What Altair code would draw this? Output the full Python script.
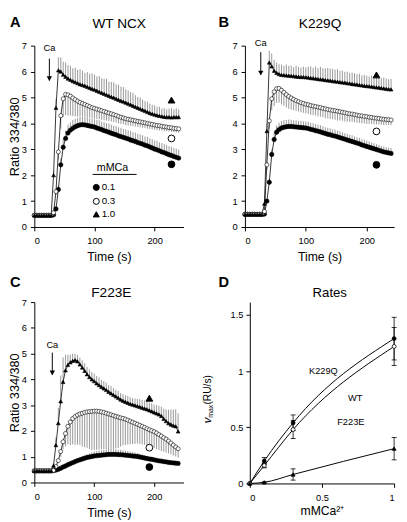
import altair as alt
import pandas as pd

FONT = "Liberation Sans"
GRAY = "#8c8c8c"

# ---------------- time grid (s) ----------------
T = [0, 4, 8, 12, 16, 20, 24, 28, 32, 36, 40, 44, 48, 52, 56, 60, 64, 68, 72, 76,
     80, 84, 88, 92, 96, 100, 104, 108, 112, 116, 120, 124, 128, 132, 136, 140, 144, 148, 152, 156,
     160, 164, 168, 172, 176, 180, 184, 188, 192, 196, 200, 204, 208, 212, 216, 220, 224, 228, 232, 236, 240]

SERIES = ["0.1", "0.3", "1.0"]

# ---------------- Panel A : WT NCX ----------------
A_10 = [0.45, 0.45, 0.45, 0.45, 0.45, 0.45, 0.45, 0.45,
        2.0, 4.6, 6.05, 6.0, 5.88, 5.8, 5.73,
        5.68, 5.63, 5.59, 5.55, 5.51, 5.48, 5.45, 5.41, 5.37, 5.33,
        5.30, 5.26, 5.22, 5.18, 5.14, 5.10, 5.06, 5.02, 4.99, 4.95,
        4.91, 4.87, 4.84, 4.80, 4.76, 4.72, 4.68, 4.64, 4.60, 4.56,
        4.52, 4.48, 4.44, 4.40, 4.37, 4.34, 4.31, 4.29, 4.27, 4.25,
        4.24, 4.24, 4.23, 4.24, 4.24, 4.24]
A_10_err = [0, 0, 0, 0, 0, 0, 0, 0,
            0.15, 0.35, 0.5, 0.55, 0.5, 0.55, 0.52,
            0.55, 0.5, 0.56, 0.52, 0.58, 0.55, 0.5, 0.57, 0.55, 0.6,
            0.58, 0.55, 0.6, 0.56, 0.58, 0.62, 0.55, 0.58, 0.6, 0.56,
            0.58, 0.55, 0.57, 0.52, 0.5, 0.48, 0.5, 0.45, 0.42, 0.44,
            0.4, 0.38, 0.4, 0.36, 0.35, 0.36, 0.33, 0.35, 0.3, 0.34,
            0.3, 0.33, 0.36, 0.3, 0.34, 0.3]
A_03 = [0.45, 0.45, 0.45, 0.45, 0.45, 0.45, 0.45, 0.45,
        0.55, 1.37, 2.9, 4.3, 4.95, 5.12, 5.1,
        5.05, 4.98, 4.92, 4.86, 4.81, 4.77, 4.73, 4.69, 4.65, 4.61,
        4.58, 4.55, 4.52, 4.49, 4.46, 4.43, 4.40, 4.37, 4.34, 4.31,
        4.27, 4.24, 4.21, 4.18, 4.16, 4.14, 4.12, 4.10, 4.08, 4.06,
        4.04, 4.02, 4.00, 3.98, 3.96, 3.94, 3.92, 3.91, 3.89, 3.87,
        3.86, 3.84, 3.83, 3.81, 3.80, 3.79]
A_03_err = [0, 0, 0, 0, 0, 0, 0, 0,
            0.05, 0.15, 0.3, 0.5, 0.7, 0.8, 0.8,
            0.75, 0.7, 0.65, 0.6, 0.55, 0.5, 0.48, 0.45, 0.42, 0.4,
            0.4, 0.38, 0.36, 0.35, 0.34, 0.32, 0.31, 0.3, 0.29, 0.28,
            0.27, 0.26, 0.25, 0.25, 0.24, 0.23, 0.23, 0.22, 0.22, 0.21,
            0.21, 0.2, 0.2, 0.2, 0.19, 0.19, 0.18, 0.18, 0.17, 0.17,
            0.16, 0.16, 0.16, 0.15, 0.15, 0.15]
A_01 = [0.45, 0.45, 0.45, 0.45, 0.45, 0.45, 0.45, 0.45,
        0.47, 0.7, 1.45, 2.4, 3.08, 3.42, 3.63,
        3.74, 3.81, 3.87, 3.91, 3.94, 3.95, 3.94, 3.92, 3.90, 3.88,
        3.86, 3.82, 3.79, 3.76, 3.72, 3.69, 3.66, 3.62, 3.59, 3.56,
        3.52, 3.49, 3.46, 3.43, 3.40, 3.36, 3.33, 3.30, 3.26, 3.23,
        3.20, 3.16, 3.13, 3.09, 3.05, 3.01, 2.98, 2.94, 2.90, 2.87,
        2.83, 2.79, 2.76, 2.72, 2.69, 2.66]
A_01_err = [0, 0, 0, 0, 0, 0, 0, 0,
            0.02, 0.05, 0.15, 0.25, 0.3, 0.3, 0.32,
            0.3, 0.32, 0.3, 0.3, 0.31, 0.3, 0.3, 0.32, 0.3, 0.31,
            0.3, 0.32, 0.33, 0.31, 0.33, 0.32, 0.34, 0.33, 0.32, 0.34,
            0.33, 0.34, 0.33, 0.34, 0.33, 0.35, 0.33, 0.34, 0.33, 0.35,
            0.34, 0.33, 0.35, 0.33, 0.34, 0.33, 0.35, 0.33, 0.34, 0.33,
            0.34, 0.33, 0.34, 0.33, 0.33, 0.33]

# ---------------- Panel B : K229Q ----------------
B_10 = [0.49, 0.49, 0.49, 0.49, 0.49, 0.49, 0.49, 0.49,
        0.9, 3.7, 6.35, 6.2, 6.03, 5.95, 5.9,
        5.87, 5.86, 5.85, 5.84, 5.83, 5.82, 5.81, 5.80, 5.79, 5.79,
        5.78, 5.77, 5.75, 5.74, 5.73, 5.71, 5.70, 5.69, 5.67, 5.66,
        5.65, 5.63, 5.62, 5.61, 5.59, 5.58, 5.57, 5.55, 5.54, 5.52,
        5.51, 5.50, 5.48, 5.47, 5.45, 5.44, 5.43, 5.42, 5.40, 5.39,
        5.38, 5.36, 5.35, 5.33, 5.32, 5.31]
B_10_err = [0, 0, 0, 0, 0, 0, 0, 0,
            0.1, 0.3, 0.45, 0.5, 0.42, 0.4, 0.38,
            0.4, 0.36, 0.42, 0.38, 0.4, 0.35, 0.42, 0.38, 0.36, 0.4,
            0.38, 0.42, 0.45, 0.4, 0.46, 0.42, 0.48, 0.44, 0.45, 0.48,
            0.46, 0.48, 0.45, 0.48, 0.44, 0.46, 0.42, 0.45, 0.4, 0.44,
            0.42, 0.4, 0.44, 0.38, 0.42, 0.4, 0.38, 0.42, 0.4, 0.38,
            0.4, 0.38, 0.42, 0.4, 0.38, 0.4]
B_03 = [0.49, 0.49, 0.49, 0.49, 0.49, 0.49, 0.49, 0.49,
        0.6, 2.4, 4.1, 4.95, 5.22, 5.34, 5.35,
        5.28, 5.20, 5.11, 5.04, 4.98, 4.93, 4.88, 4.84, 4.80, 4.77,
        4.74, 4.72, 4.69, 4.67, 4.65, 4.63, 4.61, 4.58, 4.56, 4.54,
        4.52, 4.50, 4.49, 4.47, 4.45, 4.43, 4.41, 4.39, 4.37, 4.36,
        4.34, 4.32, 4.30, 4.29, 4.27, 4.26, 4.24, 4.23, 4.21, 4.20,
        4.19, 4.17, 4.16, 4.15, 4.14, 4.13]
B_03_err = [0, 0, 0, 0, 0, 0, 0, 0,
            0.05, 0.2, 0.3, 0.45, 0.55, 0.55, 0.55,
            0.55, 0.52, 0.5, 0.48, 0.45, 0.42, 0.4, 0.38, 0.37, 0.36,
            0.35, 0.35, 0.36, 0.35, 0.34, 0.36, 0.35, 0.34, 0.36, 0.35,
            0.35, 0.34, 0.35, 0.36, 0.34, 0.33, 0.34, 0.32, 0.31, 0.3,
            0.3, 0.29, 0.28, 0.28, 0.27, 0.28, 0.26, 0.25, 0.25, 0.24,
            0.23, 0.22, 0.22, 0.21, 0.2, 0.2]
B_01 = [0.49, 0.49, 0.49, 0.49, 0.49, 0.49, 0.49, 0.49,
        0.5, 1.0, 1.73, 2.8, 3.38, 3.66, 3.76,
        3.82, 3.85, 3.87, 3.88, 3.88, 3.87, 3.86, 3.85, 3.84, 3.83,
        3.82, 3.80, 3.77, 3.75, 3.72, 3.70, 3.67, 3.64, 3.61, 3.58,
        3.56, 3.53, 3.51, 3.48, 3.45, 3.42, 3.39, 3.36, 3.33, 3.30,
        3.27, 3.24, 3.21, 3.17, 3.14, 3.11, 3.08, 3.05, 3.02, 2.99,
        2.96, 2.93, 2.90, 2.88, 2.86, 2.84]
B_01_err = [0, 0, 0, 0, 0, 0, 0, 0,
            0.02, 0.05, 0.12, 0.2, 0.25, 0.26, 0.27,
            0.27, 0.28, 0.26, 0.27, 0.26, 0.25, 0.26, 0.25, 0.26, 0.25,
            0.25, 0.26, 0.25, 0.26, 0.25, 0.25, 0.26, 0.25, 0.24, 0.25,
            0.25, 0.24, 0.25, 0.24, 0.25, 0.24, 0.23, 0.24, 0.23, 0.24,
            0.23, 0.22, 0.23, 0.22, 0.23, 0.22, 0.22, 0.21, 0.22, 0.21,
            0.21, 0.2, 0.21, 0.2, 0.2, 0.2]

# ---------------- Panel C : F223E ----------------
C_10 = [0.45, 0.45, 0.45, 0.45, 0.45, 0.45, 0.45, 0.45,
        0.65, 1.45, 2.3, 3.15, 3.9, 4.35, 4.56,
        4.66, 4.72, 4.75, 4.70, 4.58, 4.46, 4.33, 4.20, 4.09, 4.00,
        3.93, 3.85, 3.78, 3.71, 3.65, 3.59, 3.52, 3.46, 3.40, 3.34,
        3.28, 3.22, 3.17, 3.13, 3.09, 3.05, 3.02, 2.99, 2.96, 2.93,
        2.90, 2.87, 2.84, 2.80, 2.76, 2.72, 2.68, 2.64, 2.58, 2.47,
        2.38, 2.30, 2.25, 2.21, 2.18, 1.98]
C_10_err = [0, 0, 0, 0, 0, 0, 0, 0,
            0.1, 0.3, 0.6, 1.0, 0.95, 0.6, 0.4,
            0.3, 0.28, 0.25, 0.25, 0.27, 0.28, 0.3, 0.28, 0.3, 0.29,
            0.3, 0.28, 0.3, 0.27, 0.29, 0.28, 0.26, 0.28, 0.27, 0.26,
            0.27, 0.25, 0.26, 0.25, 0.27, 0.26, 0.25, 0.27, 0.28, 0.3,
            0.3, 0.31, 0.32, 0.3, 0.32, 0.3, 0.32, 0.34, 0.36, 0.4,
            0.45, 0.52, 0.58, 0.62, 0.66, 0.7]
C_03 = [0.45, 0.45, 0.45, 0.45, 0.45, 0.45, 0.45, 0.45,
        0.47, 0.62, 0.85, 1.2, 1.58, 1.9, 2.18,
        2.35, 2.48, 2.56, 2.62, 2.66, 2.69, 2.72, 2.74, 2.75, 2.76,
        2.77, 2.77, 2.76, 2.74, 2.72, 2.69, 2.66, 2.63, 2.60, 2.57,
        2.54, 2.51, 2.49, 2.46, 2.42, 2.38, 2.34, 2.30, 2.26, 2.22,
        2.18, 2.14, 2.09, 2.05, 2.01, 1.97, 1.92, 1.86, 1.80, 1.74,
        1.68, 1.61, 1.53, 1.45, 1.38, 1.31]
C_03_err = [0, 0, 0, 0, 0, 0, 0, 0,
            0, 0.05, 0.1, 0.2, 0.3, 0.5, 0.7,
            0.9, 1.0, 1.1, 1.15, 1.2, 1.3, 1.35, 1.4, 1.45, 1.5,
            1.5, 1.5, 1.48, 1.45, 1.42, 1.4, 1.38, 1.35, 1.3, 1.25,
            1.2, 1.12, 1.05, 1.0, 0.95, 0.9, 0.85, 0.8, 0.75, 0.72,
            0.7, 0.68, 0.66, 0.65, 0.64, 0.63, 0.62, 0.6, 0.58, 0.55,
            0.52, 0.48, 0.44, 0.4, 0.37, 0.34]
C_01 = [0.45, 0.45, 0.45, 0.45, 0.45, 0.45, 0.45, 0.45,
        0.46, 0.48, 0.51, 0.55, 0.60, 0.64, 0.69,
        0.73, 0.77, 0.81, 0.85, 0.88, 0.91, 0.94, 0.97, 0.99, 1.01,
        1.03, 1.04, 1.05, 1.06, 1.07, 1.08, 1.09, 1.09, 1.09, 1.09,
        1.08, 1.08, 1.07, 1.06, 1.05, 1.04, 1.03, 1.02, 1.01, 0.99,
        0.97, 0.95, 0.93, 0.91, 0.90, 0.88, 0.86, 0.84, 0.83, 0.81,
        0.80, 0.78, 0.77, 0.76, 0.75, 0.74]
C_01_err = [0, 0, 0, 0, 0, 0, 0, 0,
            0, 0, 0.01, 0.02, 0.03, 0.04, 0.05,
            0.06, 0.07, 0.08, 0.09, 0.1, 0.11, 0.12, 0.13, 0.14, 0.16,
            0.17, 0.18, 0.19, 0.19, 0.2, 0.2, 0.21, 0.2, 0.2, 0.2,
            0.19, 0.19, 0.18, 0.18, 0.17, 0.16, 0.15, 0.14, 0.13, 0.12,
            0.11, 0.1, 0.09, 0.08, 0.07, 0.06, 0.05, 0.05, 0.04, 0.04,
            0.03, 0.03, 0.02, 0.02, 0.02, 0.02]

# symbols at the right end of each trace panel (t, value per series)
A_SYM_T = 228
A_SYM_V = [2.42, 3.42, 4.9]
B_SYM_T = 216
B_SYM_V = [2.4, 3.69, 5.87]
C_SYM_T = 192
C_SYM_V = [0.6, 1.35, 3.27]

# "Ca" arrow: [t, text y, arrow top, arrow tip]
A_CA = [25, 6.9, 6.5, 5.65]
B_CA = [26, 7.1, 6.75, 5.87]
C_CA = [30, 5.32, 5.04, 4.18]

# legend in panel A
LEG_T = 103
LEG_V = [1.53, 0.99, 0.49]

# ---------------- Panel D : Rates ----------------
CONC = [0, 0.1, 0.3, 1.0]
K229Q = [0, 0.20, 0.54, 1.29]
K229Q_ERR = [0, 0.03, 0.07, 0.19]
WT = [0, 0.16, 0.48, 1.22]
WT_ERR = [0, 0.02, 0.08, 0.17]
F223E = [0, 0.01, 0.08, 0.31]
F223E_ERR = [0, 0.005, 0.05, 0.10]
GENO = ["K229Q", "WT", "F223E"]
D_LABELS = ["K229Q", "WT", "F223E"]
D_LABEL_X = [0.51, 0.73, 0.70]
D_LABEL_Y = [1.0, 0.76, 0.55]

for arr in [A_10, A_10_err, A_03, A_03_err, A_01, A_01_err, B_10, B_10_err, B_03, B_03_err,
            B_01, B_01_err, C_10, C_10_err, C_03, C_03_err, C_01, C_01_err]:
    assert len(arr) == len(T), len(arr)


def trace_df(v01, e01, v03, e03, v10, e10):
    rows = []
    for lab, vals, errs, sgn in [("0.1", v01, e01, 1), ("0.3", v03, e03, -1), ("1.0", v10, e10, 1)]:
        for t, v, e in zip(T, vals, errs):
            rows.append({"t": t, "v": v, "e2": round(v + sgn * e, 3), "s": lab})
    return pd.DataFrame(rows)


SHAPE_SCALE = alt.Scale(domain=SERIES, range=["circle", "circle", "triangle-up"])
FILL_SCALE = alt.Scale(domain=SERIES, range=["black", "white", "black"])
SIZE_SCALE = alt.Scale(domain=SERIES, range=[20, 15, 28])


def txt(text, x, y, size, weight="normal", align="left", baseline="top", angle=0, style="normal"):
    kw = dict(align=align, baseline=baseline, fontSize=size, fontWeight=weight, font=FONT,
              color="black", fontStyle=style)
    if angle:
        kw["angle"] = angle
    return alt.Chart(pd.DataFrame({"txt": [text]})).mark_text(**kw).encode(
        text="txt:N", x=alt.value(x), y=alt.value(y))


def trace_panel(df, xmax, ytitle, letter, letter_xy, title, title_xy, sym_t, sym_v, ca, legend=False):
    def X(f):
        return alt.X(f, type="quantitative", scale=alt.Scale(domain=[0, xmax], nice=False, zero=False),
                     axis=alt.Axis(values=[0, 100, 200], title="Time (s)", titlePadding=6, labelPadding=5))

    def Y(f):
        return alt.Y(f, type="quantitative", scale=alt.Scale(domain=[0, 7], nice=False, zero=False),
                     axis=alt.Axis(values=[0, 1, 2, 3, 4, 5, 6, 7], title=ytitle, titlePadding=0,
                                   labelPadding=4, titleFontSize=13))

    base = alt.Chart(df)
    err = base.mark_rule(color=GRAY, strokeWidth=0.9).encode(x=X("t"), y=Y("v"), y2="e2:Q")
    line = base.mark_line(color="black", strokeWidth=0.8).encode(x=X("t"), y=Y("v"), detail="s:N")
    pts = base.mark_point(filled=True, stroke="black", strokeWidth=0.6, opacity=1).encode(
        x=X("t"), y=Y("v"),
        shape=alt.Shape("s:N", scale=SHAPE_SCALE, legend=None),
        fill=alt.Fill("s:N", scale=FILL_SCALE, legend=None),
        size=alt.Size("s:N", scale=SIZE_SCALE, legend=None))

    sym_df = pd.DataFrame({"t": [sym_t] * 3, "v": sym_v, "s": SERIES})
    sym = alt.Chart(sym_df).mark_point(filled=True, stroke="black", strokeWidth=1, size=48, opacity=1).encode(
        x=X("t"), y=Y("v"),
        shape=alt.Shape("s:N", scale=SHAPE_SCALE, legend=None),
        fill=alt.Fill("s:N", scale=FILL_SCALE, legend=None))

    ca_df = pd.DataFrame({"t": [ca[0]], "ty": [ca[1]], "a1": [ca[2]], "a2": [ca[3]], "lab": ["Ca"]})
    ca_txt = alt.Chart(ca_df).mark_text(fontSize=9.5, font=FONT, color="black", baseline="middle").encode(
        x=X("t"), y=Y("ty"), text="lab:N")
    ca_rule = alt.Chart(ca_df).mark_rule(color="black", strokeWidth=1).encode(x=X("t"), y=Y("a1"), y2="a2:Q")
    ca_head = alt.Chart(ca_df).mark_point(shape="triangle-down", filled=True, color="black", size=30,
                                          opacity=1, yOffset=-2).encode(x=X("t"), y=Y("a2"))

    layers = [err, line, pts, sym, ca_rule, ca_head, ca_txt,
              txt(letter, letter_xy[0], letter_xy[1], 15, weight="bold"),
              txt(title, title_xy[0], title_xy[1], 14, align="center", baseline="middle")]

    if legend:
        leg_df = pd.DataFrame({"t": [LEG_T] * 3, "v": LEG_V, "s": SERIES, "tl": [LEG_T + 9] * 3})
        leg_pts = alt.Chart(leg_df).mark_point(filled=True, stroke="black", strokeWidth=1, size=38,
                                               opacity=1).encode(
            x=X("t"), y=Y("v"),
            shape=alt.Shape("s:N", scale=SHAPE_SCALE, legend=None),
            fill=alt.Fill("s:N", scale=FILL_SCALE, legend=None))
        leg_txt = alt.Chart(leg_df).mark_text(fontSize=10, font=FONT, align="left", baseline="middle",
                                              color="black").encode(x=X("tl"), y=Y("v"), text="s:N")
        head_df = pd.DataFrame({"t": [130], "v": [2.27], "t1": [97], "t2": [170], "u": [2.03], "lab": ["mMCa"]})
        head_txt = alt.Chart(head_df).mark_text(fontSize=11, font=FONT, baseline="middle", color="black").encode(
            x=X("t"), y=Y("v"), text="lab:N")
        head_rule = alt.Chart(head_df).mark_rule(color="black", strokeWidth=1).encode(
            x=X("t1"), x2="t2:Q", y=Y("u"))
        layers += [leg_pts, leg_txt, head_txt, head_rule]

    return alt.layer(*layers)


dfA = trace_df(A_01, A_01_err, A_03, A_03_err, A_10, A_10_err)
dfB = trace_df(B_01, B_01_err, B_03, B_03_err, B_10, B_10_err)
dfC = trace_df(C_01, C_01_err, C_03, C_03_err, C_10, C_10_err)

panelA = trace_panel(dfA, 248, "Ratio 334/380", "A", (-25, -31), "WT NCX", (87, -22),
                     A_SYM_T, A_SYM_V, A_CA, legend=True).properties(width=153, height=186)
panelB = trace_panel(dfB, 245, "", "B", (-27, -31), "K229Q", (77, -22),
                     B_SYM_T, B_SYM_V, B_CA).properties(width=153, height=186)
panelC = trace_panel(dfC, 249, "Ratio 334/380", "C", (-25, -27), "F223E", (79, -9),
                     C_SYM_T, C_SYM_V, C_CA).properties(width=153, height=185)

# ---------------- Panel D ----------------
rows = []
for g, vals, errs in [("K229Q", K229Q, K229Q_ERR), ("WT", WT, WT_ERR), ("F223E", F223E, F223E_ERR)]:
    for c, r, e in zip(CONC, vals, errs):
        rows.append({"c": c, "r": r, "lo": r - e, "hi": r + e, "g": g})
dfD = pd.DataFrame(rows)


def DX(f):
    return alt.X(f, type="quantitative", scale=alt.Scale(domain=[0, 1], nice=False, zero=False),
                 axis=alt.Axis(values=[0, 0.5, 1], format="~g", title="mMCa²⁺", titlePadding=3,
                               labelPadding=5))


def DY(f):
    return alt.Y(f, type="quantitative", scale=alt.Scale(domain=[0, 1.615], nice=False, zero=False),
                 axis=alt.Axis(values=[0, 0.5, 1, 1.5], format="~g", title="", labelPadding=3))


G_SHAPE = alt.Scale(domain=GENO, range=["circle", "circle", "triangle-up"])
G_FILL = alt.Scale(domain=GENO, range=["white", "black", "white"])
baseD = alt.Chart(dfD)
d_line = baseD.mark_line(color="black", strokeWidth=1, interpolate="monotone").encode(
    x=DX("c"), y=DY("r"), detail="g:N")
d_err = baseD.mark_rule(color="black", strokeWidth=0.8).encode(x=DX("c"), y=DY("lo"), y2="hi:Q")
d_cap1 = baseD.mark_tick(orient="horizontal", color="black", size=5, thickness=0.8, opacity=1).encode(
    x=DX("c"), y=DY("lo"))
d_cap2 = baseD.mark_tick(orient="horizontal", color="black", size=5, thickness=0.8, opacity=1).encode(
    x=DX("c"), y=DY("hi"))
d_pts = baseD.mark_point(filled=True, stroke="black", strokeWidth=0.8, size=16, opacity=1).encode(
    x=DX("c"), y=DY("r"),
    shape=alt.Shape("g:N", scale=G_SHAPE, legend=None),
    fill=alt.Fill("g:N", scale=G_FILL, legend=None))
lab_df = pd.DataFrame({"c": D_LABEL_X, "r": D_LABEL_Y, "lab": D_LABELS})
d_lab = alt.Chart(lab_df).mark_text(fontSize=9.5, font=FONT, color="black").encode(
    x=DX("c"), y=DY("r"), text="lab:N")

panelD = alt.layer(
    d_err, d_cap1, d_cap2, d_line, d_pts, d_lab,
    txt("D", -32, -27, 15, weight="bold"),
    txt("Rates", 82, -9, 13.5, align="center", baseline="middle"),
    txt("(RU/s)", -43, 90, 10.5, align="center", baseline="middle", angle=270),
    txt("max", -40, 112, 7, align="center", baseline="middle", angle=270),
    txt("v", -43, 121.5, 11.5, align="center", baseline="middle", angle=270, style="italic"),
).properties(width=148, height=186)

top = alt.hconcat(panelA, panelB, spacing=63, bounds="flush")
bottom = alt.hconcat(panelC, panelD, spacing=68, bounds="flush")
chart = alt.vconcat(top, bottom, spacing=11).properties(
    padding=0
).configure(font=FONT).configure_view(stroke="transparent").configure_axis(
    domainColor="black", tickColor="black", labelColor="black", titleColor="black",
    labelFont=FONT, titleFont=FONT, labelFontSize=9.5, titleFontSize=12.5, titleFontWeight="normal",
    tickSize=4, grid=False, domainWidth=1, tickWidth=1
)

chart.save("out.html", embed_options={"renderer": "svg", "actions": False})
